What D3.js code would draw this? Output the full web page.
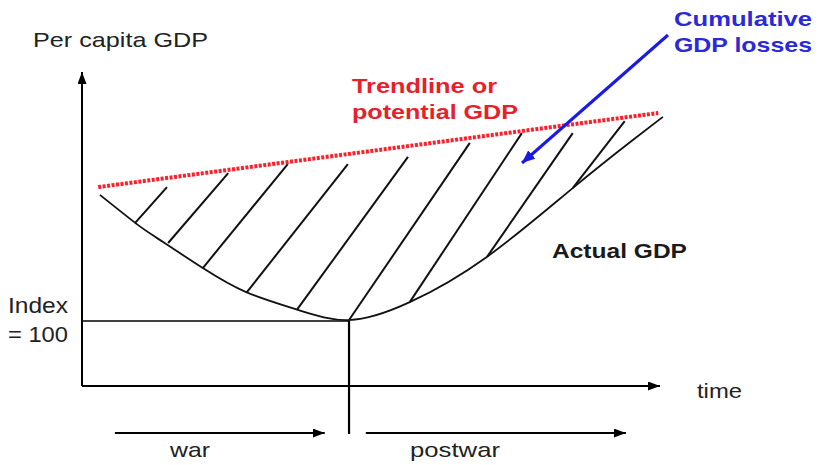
<!DOCTYPE html>
<html>
<head>
<meta charset="utf-8">
<script src="https://cdn.jsdelivr.net/npm/d3@7"></script>
<style>
  body { margin: 0; background: #fff; }
  text { font-family: "Liberation Sans", Arial, sans-serif; }
</style>
</head>
<body>
<div id="chart-container"></div>
<script>
// war / postwar GDP sketch, drawn with d3
const svgWidth = 821;
const svgHeight = 465;

// actual GDP path (time units, index units)
const curveTime = [3.1, 9.2, 13.0, 20.9, 28.5, 37.2, 46.2, 56.7, 70.1, 84.9, 95.3, 100.5];
const curveGDP = [138.8, 130.2, 125.5, 116.3, 108.8, 103.5, 100.3, 105.8, 119.8, 140.9, 155.7, 162.8];

// trendline / potential GDP
const trendTime = [2.8, 99.7];
const trendGDP = [141.2, 164];

// hatch strokes for the cumulative loss area
const hatchTime0 = [9.2, 14.9, 20.9, 28.5, 37.2, 46.2, 56.7, 70.1, 84.9];
const hatchGDP0 = [130.2, 124.0, 116.3, 108.8, 103.5, 100.3, 105.8, 119.8, 140.9];
const hatchTime1 = [14.7, 25.3, 35.6, 46.0, 56.4, 67.1, 76.1, 84.9, 93.9];
const hatchGDP1 = [141.2, 145.5, 148.3, 148.3, 150.5, 154.8, 157.8, 157.8, 161.5];

const indexValue = 100;
const warEnd = 46.2;

const phaseLabels = ["war", "postwar"];
const phaseStart = [5.7, 49.1];
const phaseEnd = [42.0, 94.1];

const x = d3.scaleLinear().domain([0, 100]).range([82, 660]);
const y = d3.scaleLinear().domain([80, 176]).range([386, 74]);

const svg = d3.select("#chart-container")
    .append("svg")
    .attr("width", svgWidth)
    .attr("height", svgHeight);

const defs = svg.append("defs");
function marker(id, color, w, h) {
    defs.append("marker")
        .attr("id", id)
        .attr("viewBox", `0 0 ${w} ${h}`)
        .attr("refX", w).attr("refY", h / 2)
        .attr("markerWidth", w).attr("markerHeight", h)
        .attr("markerUnits", "userSpaceOnUse")
        .attr("orient", "auto")
        .append("path")
        .attr("d", `M0,0 L${w},${h / 2} L0,${h} Z`)
        .attr("fill", color);
}
marker("arrowBlack", "#000", 12, 9);
marker("arrowBlue", "#1a1ae6", 13, 11);

// axes
svg.append("line")
    .attr("x1", x(0)).attr("y1", y(80))
    .attr("x2", x(0)).attr("y2", y(176.6))
    .attr("stroke", "#000").attr("stroke-width", 2)
    .attr("marker-end", "url(#arrowBlack)");
svg.append("line")
    .attr("x1", x(0)).attr("y1", y(80))
    .attr("x2", x(100)).attr("y2", y(80))
    .attr("stroke", "#000").attr("stroke-width", 2)
    .attr("marker-end", "url(#arrowBlack)");

// index = 100 level and war end
svg.append("line")
    .attr("x1", x(0)).attr("y1", y(indexValue))
    .attr("x2", x(warEnd)).attr("y2", y(indexValue))
    .attr("stroke", "#000").attr("stroke-width", 1.6);
svg.append("line")
    .attr("x1", x(warEnd)).attr("y1", y(indexValue))
    .attr("x2", x(warEnd)).attr("y2", 434)
    .attr("stroke", "#000").attr("stroke-width", 2.2);

// hatches
svg.selectAll(".hatch")
    .data(hatchTime0)
    .enter()
    .append("line")
    .attr("class", "hatch")
    .attr("x1", (d, i) => x(d))
    .attr("y1", (d, i) => y(hatchGDP0[i]))
    .attr("x2", (d, i) => x(hatchTime1[i]))
    .attr("y2", (d, i) => y(hatchGDP1[i]))
    .attr("stroke", "#111").attr("stroke-width", 2);

// actual GDP
const line = d3.line()
    .x(d => x(d[0]))
    .y(d => y(d[1]))
    .curve(d3.curveNatural);
svg.append("path")
    .datum(curveTime.map((t, i) => [t, curveGDP[i]]))
    .attr("d", line)
    .attr("fill", "none")
    .attr("stroke", "#111")
    .attr("stroke-width", 1.8);

// trendline
svg.append("path")
    .datum(trendTime.map((t, i) => [t, trendGDP[i]]))
    .attr("d", d3.line().x(d => x(d[0])).y(d => y(d[1])))
    .attr("fill", "none")
    .attr("stroke", "#ff1f2a")
    .attr("stroke-width", 4)
    .attr("stroke-dasharray", "3,1.5");

// blue pointer
svg.append("line")
    .attr("x1", 668).attr("y1", 35)
    .attr("x2", 522).attr("y2", 163)
    .attr("stroke", "#1a1ae6").attr("stroke-width", 3)
    .attr("marker-end", "url(#arrowBlue)");

// war / postwar arrows
phaseLabels.forEach((lab, i) => {
    svg.append("line")
        .attr("x1", x(phaseStart[i])).attr("y1", 433)
        .attr("x2", x(phaseEnd[i])).attr("y2", 433)
        .attr("stroke", "#000").attr("stroke-width", 2)
        .attr("marker-end", "url(#arrowBlack)");
});

function label(txt, px, py, len, opts) {
    opts = opts || {};
    svg.append("text")
        .text(txt)
        .attr("x", px).attr("y", py)
        .attr("textLength", len)
        .attr("lengthAdjust", "spacingAndGlyphs")
        .attr("font-size", opts.size || 21)
        .attr("font-weight", opts.bold ? "bold" : "normal")
        .attr("fill", opts.color || "#222");
}

label("Per capita  GDP", 33, 47, 175, { size: 21 });
label("Index", 8, 313, 60, { size: 22 });
label("= 100", 8, 342, 60, { size: 22 });
label("time", 697, 398, 45, { size: 21 });
label(phaseLabels[0], 170, 457, 40, { size: 21 });
label(phaseLabels[1], 410, 457, 90, { size: 21 });
label("Trendline or", 352, 93, 145, { size: 21, bold: true, color: "#e8202a" });
label("potential GDP", 352, 119, 166, { size: 21, bold: true, color: "#e8202a" });
label("Cumulative", 674, 26, 138, { size: 21, bold: true, color: "#2a2ad8" });
label("GDP losses", 674, 52, 138, { size: 21, bold: true, color: "#2a2ad8" });
label("Actual GDP", 552, 258, 135, { size: 20, bold: true, color: "#1a1a1a" });
</script>
</body>
</html>
